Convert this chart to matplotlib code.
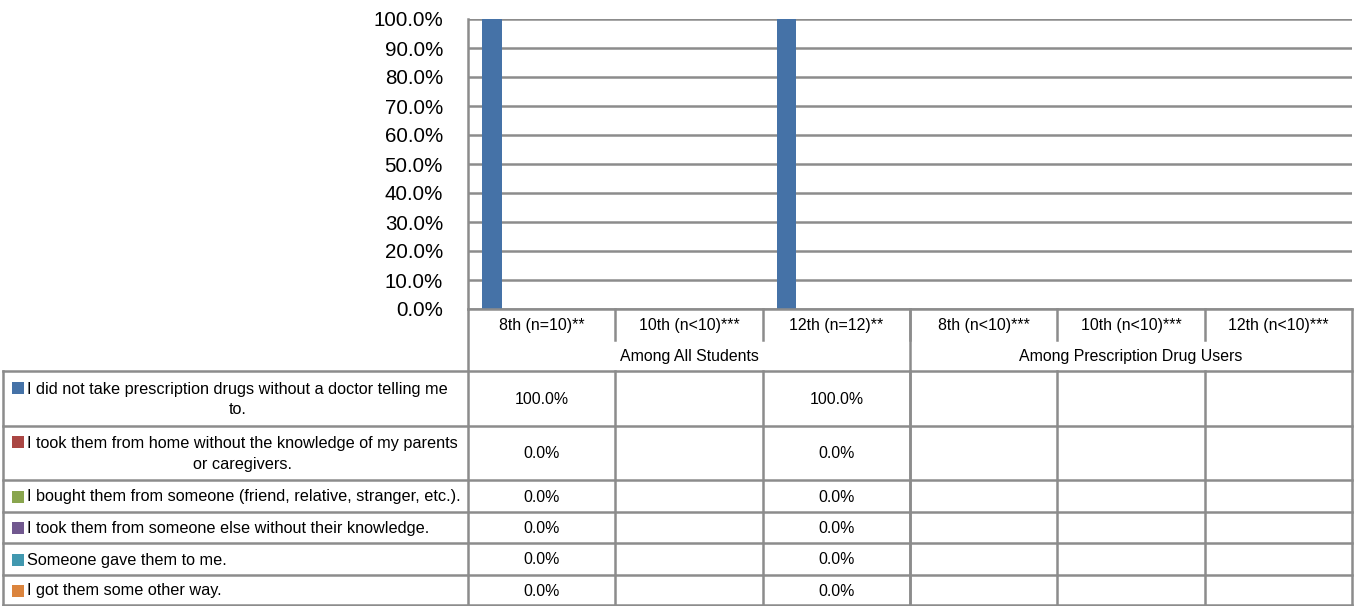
import matplotlib
matplotlib.use("Agg")
import matplotlib.pyplot as plt
from matplotlib import font_manager

# data
categories = ['8th (n=10)**', '10th (n<10)***', '12th (n=12)**',
              '8th (n<10)***', '10th (n<10)***', '12th (n<10)***']
groups = ['Among All Students', 'Among Prescription Drug Users']
group_span = [3, 3]
series = [
    'I did not take prescription drugs without a doctor telling me\nto.',
    'I took them from home without the knowledge of my parents\nor caregivers.',
    'I bought them from someone (friend, relative, stranger, etc.).',
    'I took them from someone else without their knowledge.',
    'Someone gave them to me.',
    'I got them some other way.',
]
# values per series, one per category (None = no data)
values = [
    [100.0, None, 100.0, None, None, None],
    [0.0, None, 0.0, None, None, None],
    [0.0, None, 0.0, None, None, None],
    [0.0, None, 0.0, None, None, None],
    [0.0, None, 0.0, None, None, None],
    [0.0, None, 0.0, None, None, None],
]
colors = ['#4572A7', '#AA4643', '#89A54E', '#71588F', '#4198AF', '#DB843D']

# font: narrow Arial-like if present
names = {f.name for f in font_manager.fontManager.ttflist}
if 'Liberation Sans Narrow' in names:
    fam, k = 'Liberation Sans Narrow', 1.0
else:
    fam, k = 'Liberation Sans', 0.82
plt.rcParams['font.family'] = fam

W, H = 1354, 606
fig = plt.figure(figsize=(W / 100, H / 100), dpi=100)

# chart area (pixels)
x0, x1 = 468, 1352
y_top, y_axis = 19, 309
ax = fig.add_axes([x0 / W, 1 - y_axis / H, (x1 - x0) / W, (y_axis - y_top) / H])

n = len(categories)
ns = len(series)
bw = 0.135
grid_c = '#8C8C8C'
for i in range(ns):
    xs = [j - 0.5 + 0.094 + (i + 0.5) * bw for j in range(n)]
    hs = [v if v is not None else 0 for v in values[i]]
    ax.bar(xs, hs, width=bw, color=colors[i], linewidth=0, zorder=3)

ax.set_xlim(-0.5, n - 0.5)
ax.set_ylim(0, 100)
ax.set_yticks(range(0, 101, 10))
ax.set_yticklabels([f'{t:.1f}%' for t in range(0, 101, 10)], fontsize=18 * k)
ax.tick_params(axis='y', length=0, pad=18)
ax.set_xticks([])
ax.yaxis.grid(True, color=grid_c, linewidth=1.8, zorder=0)
for s in ['top', 'right', 'bottom']:
    ax.spines[s].set_visible(False)
ax.spines['left'].set_color(grid_c)
ax.spines['left'].set_linewidth(1.8)

# data table drawn in pixel coordinates
tb = fig.add_axes([0, 0, 1, 1])
tb.set_xlim(0, W)
tb.set_ylim(H, 0)
tb.axis('off')
tb.patch.set_alpha(0)

lc = '#8C8C8C'
lw = 1.8
colw = (x1 - x0) / n
edges = [x0 + j * colw for j in range(n + 1)]
y_cat = 340
y_grp = 371
row_y = [371, 426, 480, 512, 543, 575, 605]
x_left = 3

# category row
tb.plot([x0, x1], [y_axis, y_axis], color=lc, lw=lw)
for j in range(1, n):
    tb.plot([edges[j], edges[j]], [y_axis, y_cat], color=lc, lw=lw)
for j, c in enumerate(categories):
    tb.text((edges[j] + edges[j + 1]) / 2, (y_axis + y_cat) / 2 + 1, c,
            ha='center', va='center', fontsize=14 * k)

# group row
start = 0
for g, span in zip(groups, group_span):
    tb.text((edges[start] + edges[start + span]) / 2, (y_cat + y_grp) / 2 + 1, g,
            ha='center', va='center', fontsize=14 * k)
    start += span
    if start < n:
        tb.plot([edges[start], edges[start]], [y_axis, H], color=lc, lw=lw)

# outer verticals
tb.plot([x0, x0], [y_axis, H], color=lc, lw=lw)
tb.plot([x1, x1], [y_axis, H], color=lc, lw=lw)
tb.plot([x_left, x_left], [y_grp, H], color=lc, lw=lw)

# data rows
for y in row_y:
    tb.plot([x_left, x1], [y, y], color=lc, lw=lw)
for j in range(1, n):
    tb.plot([edges[j], edges[j]], [y_grp, H], color=lc, lw=lw)

for i, name in enumerate(series):
    yc = (row_y[i] + row_y[i + 1]) / 2
    if '\n' in name:
        ty = yc - 11.5
    else:
        ty = yc
    tb.scatter([17.5], [ty + 0.5], marker='s', s=70, color=colors[i], linewidths=0)
    tb.text(27, yc + 1, name, ha='left', va='center', multialignment='center',
            fontsize=14.3 * k, linespacing=1.42)
    for j in range(n):
        v = values[i][j]
        if v is not None:
            tb.text((edges[j] + edges[j + 1]) / 2, yc + 1, f'{v:.1f}%',
                    ha='center', va='center', fontsize=14 * k)

fig.savefig('out.png', dpi=100)
